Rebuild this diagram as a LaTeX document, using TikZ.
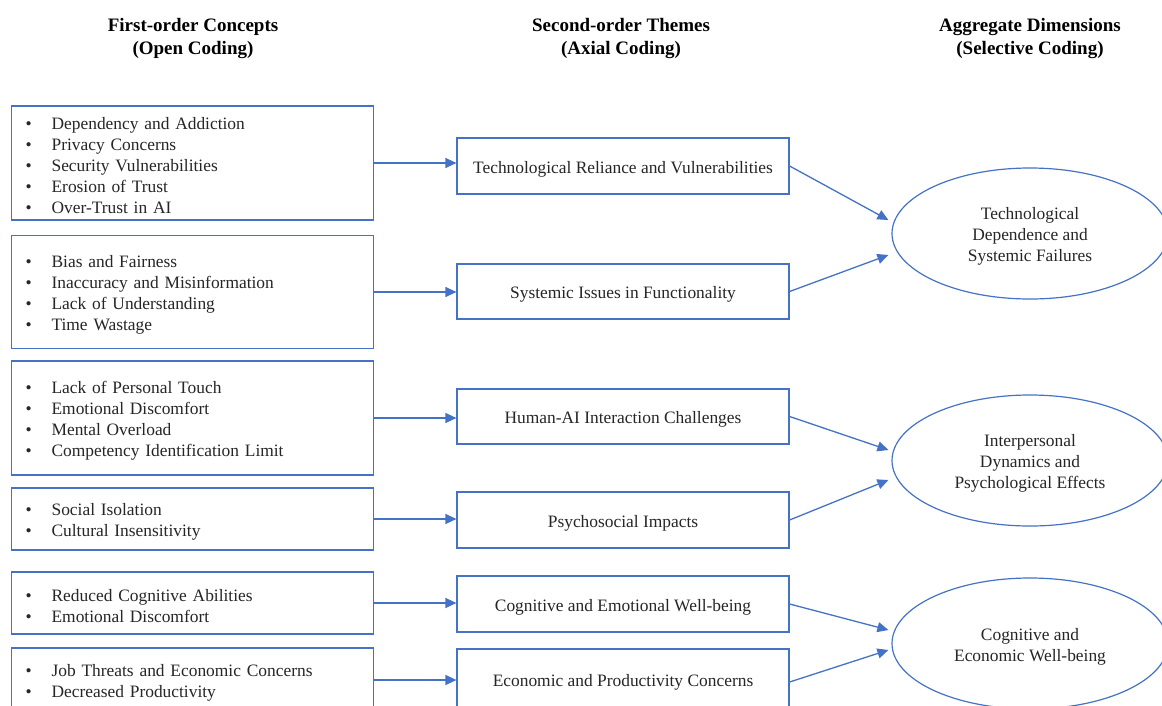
\documentclass[tikz,border=0pt]{standalone}
\usepackage{fontspec}
\setmainfont{Liberation Serif}
\usetikzlibrary{arrows.meta,shapes.geometric}
\definecolor{lineblue}{RGB}{68,114,196}
\newcommand{\tstrut}{\rule{0pt}{18pt}}
\newcommand{\bitem}[1]{\hspace*{14pt}\makebox[26pt][l]{\textbullet}#1}
\newcommand{\fitem}[1]{\tstrut\bitem{#1}}
\begin{document}
\begin{tikzpicture}[x=1pt,y=-1pt,
  every node/.style={font=\fontsize{17.4}{21}\selectfont, text=black!85},
  head/.style={font=\bfseries\fontsize{19}{23}\selectfont, align=center, text=black},
  leftbox/.style={draw=lineblue, line width=1.2pt, anchor=west, text width=362pt, inner xsep=0pt, align=left},
  midbox/.style={draw=lineblue, line width=1.2pt, minimum width=332pt, align=center, inner sep=0pt},
  dimell/.style={ellipse, draw=lineblue, line width=1.2pt, minimum width=276pt, minimum height=131pt, align=center, inner sep=0pt},
  conn/.style={draw=lineblue, line width=1.3pt, -{Triangle[length=11pt,width=10pt]}}
]
\useasboundingbox (0,0) rectangle (1162,705);
\fill[white] (0,0) rectangle (1162,705);

% headers
\node[head] (h1) at (193,39) {First-order Concepts\\(Open Coding)};
\node[head] (h2) at (621,39) {Second-order Themes\\(Axial Coding)};
\node[head] (h3) at (1030,39) {Aggregate Dimensions\\(Selective Coding)};

% first-order concepts
\node[leftbox, minimum height=114pt] (L1) at (11,163) {\fitem{Dependency and Addiction}\\\bitem{Privacy Concerns}\\\bitem{Security Vulnerabilities}\\\bitem{Erosion of Trust}\\\bitem{Over-Trust in AI}};
\node[leftbox, minimum height=113pt] (L2) at (11,292) {\fitem{Bias and Fairness}\\\bitem{Inaccuracy and Misinformation}\\\bitem{Lack of Understanding}\\\bitem{Time Wastage}};
\node[leftbox, minimum height=114pt] (L3) at (11,418) {\fitem{Lack of Personal Touch}\\\bitem{Emotional Discomfort}\\\bitem{Mental Overload}\\\bitem{Competency Identification Limit}};
\node[leftbox, minimum height=62pt] (L4) at (11,519) {\fitem{Social Isolation}\\\bitem{Cultural Insensitivity}};
\node[leftbox, minimum height=62pt] (L5) at (11,603) {\fitem{Reduced Cognitive Abilities}\\\bitem{Emotional Discomfort}};
\node[leftbox, minimum height=64pt] (L6) at (11,680) {\fitem{Job Threats and Economic Concerns}\\\bitem{Decreased Productivity}};

% second-order themes
\node[midbox, minimum height=56pt] (M1) at (623,166) {\tstrut Technological Reliance and Vulnerabilities};
\node[midbox, minimum height=55pt] (M2) at (623,291.5) {\tstrut Systemic Issues in Functionality};
\node[midbox, minimum height=55pt] (M3) at (623,416.5) {\tstrut Human-AI Interaction Challenges};
\node[midbox, minimum height=56pt] (M4) at (623,520) {\tstrut Psychosocial Impacts};
\node[midbox, minimum height=56pt] (M5) at (623,604) {\tstrut Cognitive and Emotional Well-being};
\node[midbox, minimum height=60pt] (M6) at (623,679) {\tstrut Economic and Productivity Concerns};

% aggregate dimensions
\node[dimell] (E1) at (1030,233.5) {\tstrut Technological\\Dependence and\\Systemic Failures};
\node[dimell] (E2) at (1030,460.5) {\tstrut Interpersonal\\Dynamics and\\Psychological Effects};
\node[dimell] (E3) at (1030,643.5) {\tstrut Cognitive and\\Economic Well-being};

% connectors left -> middle
\foreach \i in {1,...,6}{
  \draw[conn] (L\i.east) -- (L\i.east -| M\i.west);
}

% connectors middle -> right
\draw[conn] (M1.east) -- ([xshift=-3pt,yshift=13.5pt]E1.west);
\draw[conn] (M2.east) -- ([xshift=-3pt,yshift=-21.5pt]E1.west);
\draw[conn] (M3.east) -- ([xshift=-3pt,yshift=10.5pt]E2.west);
\draw[conn] (M4.east) -- ([xshift=-3pt,yshift=-19.5pt]E2.west);
\draw[conn] (M5.east) -- ([xshift=-3pt,yshift=13.5pt]E3.west);
\draw[conn] ([yshift=-3pt]M6.east) -- ([xshift=-3pt,yshift=-6.5pt]E3.west);
\end{tikzpicture}
\end{document}
